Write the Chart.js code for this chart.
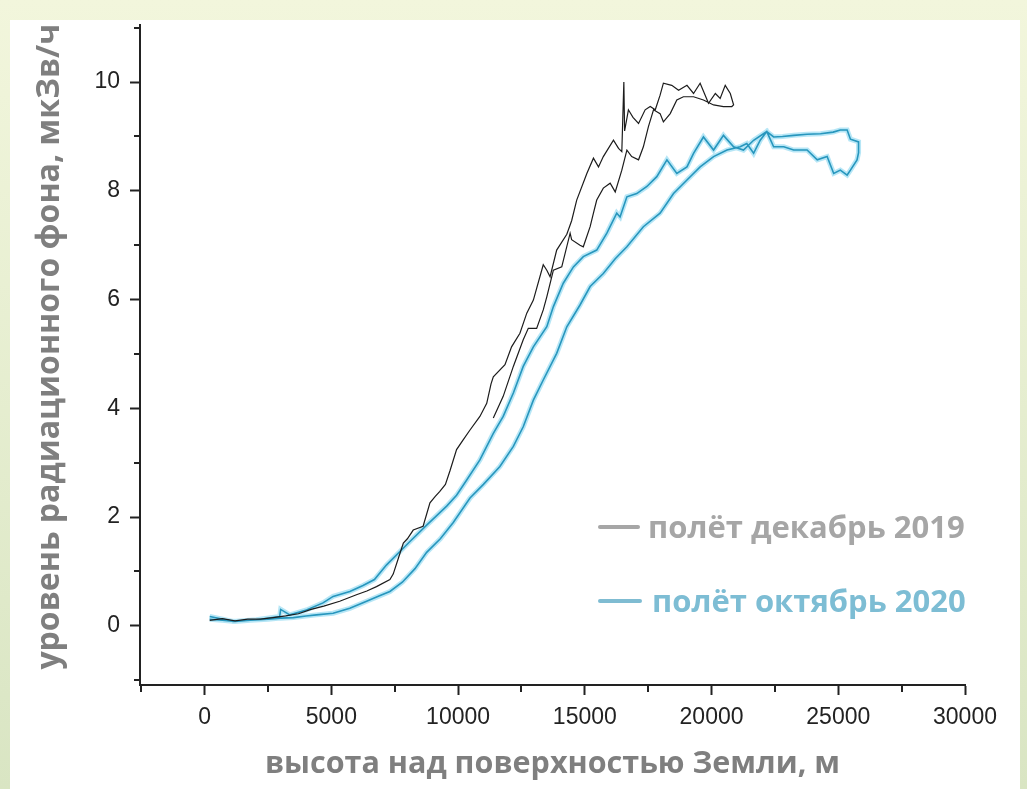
<!DOCTYPE html>
<html><head><meta charset="utf-8">
<script src="https://cdn.jsdelivr.net/npm/chart.js@4.4.0/dist/chart.umd.min.js"></script>
<style>
html,body{margin:0;padding:0;width:1027px;height:789px;overflow:hidden;}
body{background:linear-gradient(to bottom,#f2f6dc,#d9e5c3);}
#sheet{position:absolute;left:10px;top:20px;width:1010px;height:769px;background:#fff;}
#wrap{position:absolute;left:0;top:0;width:1027px;height:789px;}
.leg{position:absolute;font-family:"Open Sans",sans-serif;font-weight:700;font-size:31px;line-height:31px;white-space:nowrap;}
.sw{position:absolute;height:4px;border-radius:2px;}
</style></head><body>
<div id="sheet"></div>
<div id="wrap"><canvas id="c" width="1027" height="789"></canvas></div>
<div class="sw" style="left:598px;top:525px;width:42px;background:#a6a6a6"></div>
<div class="leg" style="left:648px;top:511px;color:#a6a6a6">полёт декабрь 2019</div>
<div class="sw" style="left:598px;top:599px;width:44px;background:#7fbcd2"></div>
<div class="leg" style="left:652px;top:585px;color:#7dbdd4">полёт октябрь 2020</div>
<script>
// Flight of December 2019 (altitude, m / dose rate, µSv/h) — ascent then descent
const dec2019Alt = [200,700,1200,1700,2200,2700,3200,3700,4200,4700,5330,5990,6400,6780,7310,7440,7650,7840,8000,8230,8620,8890,9100,9280,9500,9680,9940,10200,10470,10860,11130,11300,11390,11850,12110,12440,12710,12970,13360,13500,13630,13890,14290,14480,14680,15080,15340,15540,15730,16130,16330,16460,16540,16570,16720,16900,17120,17380,17580,17780,17970,18100,18430,18700,19030,19290,19550,19880,20150,20340,20540,20740,20870,
  20800,20470,20080,19680,19290,18890,18630,18370,18100,17970,17710,17510,17310,17120,16850,16660,16460,16200,16000,15730,15470,15340,15210,14940,14810,14480,14420,14090,13760,13500,13360,13100,12770,12570,12180,11780,11390];
const dec2019Dose = [0.10,0.13,0.09,0.12,0.12,0.15,0.18,0.22,0.30,0.36,0.45,0.57,0.64,0.72,0.85,0.95,1.25,1.52,1.60,1.76,1.83,2.26,2.38,2.47,2.60,2.85,3.24,3.42,3.60,3.85,4.09,4.45,4.58,4.80,5.13,5.38,5.75,5.99,6.64,6.54,6.42,6.91,7.20,7.45,7.83,8.32,8.60,8.44,8.63,8.93,8.78,8.72,10.0,9.10,9.49,9.35,9.24,9.49,9.55,9.49,9.76,9.98,9.94,9.85,9.94,9.79,9.98,9.61,9.79,9.70,9.94,9.79,9.58,
  9.55,9.55,9.58,9.67,9.73,9.73,9.67,9.42,9.27,9.42,9.49,9.18,8.81,8.57,8.63,8.75,8.38,7.98,8.14,8.05,7.83,7.59,7.34,6.97,7.00,7.10,7.22,6.60,6.54,6.05,5.81,5.47,5.47,5.26,4.77,4.22,3.82];
// Flight of October 2020 — ascent then descent
const oct2020Alt = [200,700,1200,1800,2500,3000,3500,4000,4410,5070,5730,6390,6900,7310,7800,8300,8760,9300,9810,10470,11000,11650,12180,12570,12970,13360,13890,14290,14810,15210,15730,16200,16660,17310,17970,18500,19030,19550,20080,20610,21130,21390,21660,21920,22180,22450,22800,23240,23770,24300,24800,25080,25350,25480,25800,25800,25740,25480,25350,25080,24820,24560,24170,23770,23240,22850,22450,22180,21660,21260,20870,20470,20080,19680,19290,19030,18630,18240,17840,17450,17050,16660,16390,16260,15870,15470,14940,14550,14150,13760,13500,12970,12570,12180,11780,11390,10860,10340,9940,9550,8760,8100,7180,6700,6250,5730,5070,4670,4020,3360,3000,2960,2040,1120,200];
const oct2020Dose = [0.12,0.10,0.08,0.10,0.12,0.14,0.15,0.18,0.20,0.23,0.32,0.45,0.55,0.63,0.80,1.05,1.35,1.60,1.90,2.35,2.60,2.93,3.30,3.66,4.15,4.52,5.01,5.50,5.90,6.24,6.48,6.75,6.97,7.34,7.59,7.95,8.20,8.44,8.63,8.75,8.81,8.87,8.69,8.93,9.09,8.99,9.00,9.02,9.04,9.05,9.08,9.12,9.12,8.95,8.90,8.70,8.57,8.38,8.29,8.38,8.32,8.63,8.57,8.75,8.75,8.81,8.81,9.09,8.93,8.75,8.81,9.02,8.75,8.99,8.69,8.44,8.32,8.57,8.26,8.08,7.95,7.89,7.52,7.59,7.22,6.91,6.79,6.60,6.30,5.87,5.50,5.13,4.77,4.28,3.85,3.54,3.05,2.68,2.40,2.20,1.85,1.55,1.12,0.85,0.74,0.63,0.54,0.42,0.29,0.20,0.30,0.17,0.11,0.08,0.17];
const xMajorTicks = [0,5000,10000,15000,20000,25000,30000];
const xMinorTicks = [-2500,2500,7500,12500,17500,22500,27500];
const yMajorTicks = [0,2,4,6,8,10];
const yMinorTicks = [-1,1,3,5,7,9,11];
const xTitle = 'высота над поверхностью Земли, м';
const yTitle = '  уровень радиационного фона, мкЗв/ч';

const zip = (a, b) => a.map((x, i) => ({x: x, y: b[i]}));
const decPts = zip(dec2019Alt, dec2019Dose);
const octPts = zip(oct2020Alt, oct2020Dose);
const allTicks = (maj, min) => maj.concat(min).sort((a, b) => a - b).map(v => ({value: v}));

const minorTicks = {
  id: 'minorTicks',
  afterDraw(chart) {
    const ctx = chart.ctx;
    const xs = chart.scales.x, ys = chart.scales.y;
    ctx.save();
    ctx.strokeStyle = '#222';
    ctx.lineWidth = 2;
    yMinorTicks.forEach(v => {
      const p = Math.round(ys.getPixelForValue(v));
      ctx.beginPath(); ctx.moveTo(ys.right - 6, p); ctx.lineTo(ys.right, p); ctx.stroke();
    });
    xMinorTicks.forEach(v => {
      const p = Math.round(xs.getPixelForValue(v));
      ctx.beginPath(); ctx.moveTo(p, xs.top); ctx.lineTo(p, xs.top + 7); ctx.stroke();
    });
    ctx.restore();
  }
};

new Chart(document.getElementById('c'), {
  type: 'scatter',
  data: {
    datasets: [
      {label: 'полёт декабрь 2019', data: decPts, showLine: true, borderColor: '#1c1c1c', borderWidth: 1.2, pointRadius: 0, tension: 0, order: 0},
      {label: 'полёт октябрь 2020', data: octPts, showLine: true, borderColor: '#2796bd', borderWidth: 1.6, pointRadius: 0, tension: 0, order: 1},
      {label: 'halo', data: octPts, showLine: true, borderColor: 'rgba(110,205,238,0.5)', borderWidth: 5, pointRadius: 0, tension: 0, order: 2}
    ]
  },
  options: {
    responsive: false,
    animation: false,
    devicePixelRatio: 1,
    layout: {padding: {left: 0, right: 62, top: 25, bottom: 0}},
    plugins: {legend: {display: false}, tooltip: {enabled: false}},
    scales: {
      x: {
        type: 'linear', min: -2550, max: 30000,
        afterFit: s => { s.height = 104; },
        afterBuildTicks: s => { s.ticks = allTicks(xMajorTicks, xMinorTicks); },
        border: {color: '#222', width: 2},
        grid: {display: true, drawOnChartArea: false, drawTicks: true, tickLength: 10, tickWidth: 2,
               tickColor: c => xMajorTicks.includes(c.tick.value) ? '#222' : 'rgba(0,0,0,0)'},
        ticks: {autoSkip: false, maxRotation: 0, minRotation: 0, padding: 9,
                color: '#222', font: {family: '"Liberation Sans", Arial, sans-serif', size: 23},
                callback: v => xMajorTicks.includes(v) ? String(v) : ''},
        title: {display: true, text: xTitle, color: '#7f7f7f',
                font: {family: '"Open Sans", sans-serif', size: 30.5, weight: 'bold', lineHeight: 1},
                padding: {top: 0, bottom: 9}}
      },
      y: {
        type: 'linear', min: -1.09, max: 11.05,
        afterFit: s => { s.width = 140; },
        afterBuildTicks: s => { s.ticks = allTicks(yMajorTicks, yMinorTicks); },
        border: {color: '#222', width: 2},
        grid: {display: true, drawOnChartArea: false, drawTicks: true, tickLength: 10, tickWidth: 2,
               tickColor: c => yMajorTicks.includes(c.tick.value) ? '#222' : 'rgba(0,0,0,0)'},
        ticks: {autoSkip: false, padding: 10,
                color: '#222', font: {family: '"Liberation Sans", Arial, sans-serif', size: 23},
                callback: v => yMajorTicks.includes(v) ? String(v) : ''},
        title: {display: true, text: yTitle, color: '#7f7f7f',
                font: {family: '"Open Sans", sans-serif', size: 32, weight: 'bold', lineHeight: 1},
                padding: {top: 34, bottom: 0}}
      }
    }
  },
  plugins: [minorTicks]
});
</script>
</body></html>
